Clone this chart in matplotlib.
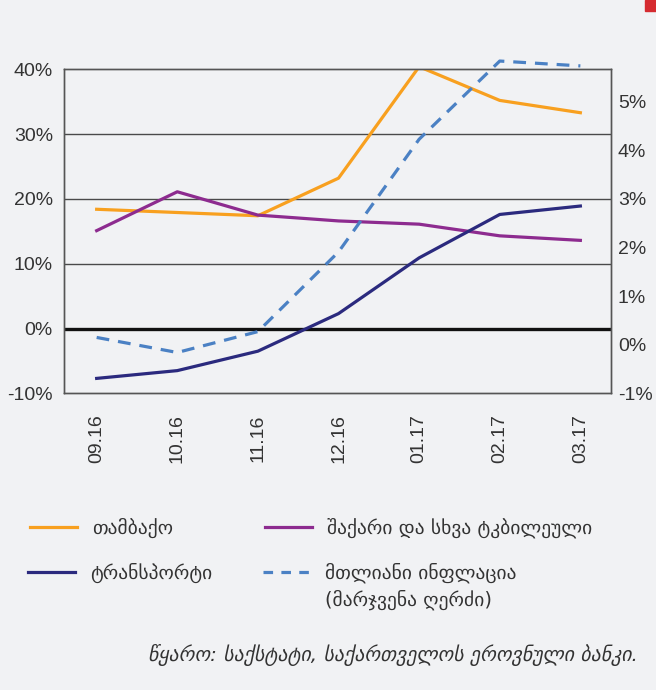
import numpy as np
import matplotlib.pyplot as plt
from matplotlib.lines import Line2D
from matplotlib.patches import Rectangle

months = ['09.16', '10.16', '11.16', '12.16', '01.17', '02.17', '03.17']
tobacco = [18.4, 17.9, 17.4, 23.2, 40.4, 35.2, 33.3]
sugar = [15.1, 21.1, 17.5, 16.6, 16.1, 14.3, 13.6]
transport = [-7.7, -6.5, -3.5, 2.3, 10.9, 17.6, 18.9]
inflation = [0.15, -0.16, 0.27, 1.91, 4.23, 5.84, 5.74]  # right axis

left_ticks = [-10, 0, 10, 20, 30, 40]
right_ticks = [-1, 0, 1, 2, 3, 4, 5]

names = ['თამბაქო', 'შაქარი და სხვა ტკბილეული', 'ტრანსპორტი',
         'მთლიანი ინფლაცია\n(მარჯვენა ღერძი)']
source = 'წყარო: საქსტატი, საქართველოს ეროვნული ბანკი.'

bg = '#f1f2f4'
c_tob = '#f8a01f'
c_sug = '#8d2b8f'
c_tra = '#2b2a7e'
c_inf = '#4b81c4'
txt = '#333333'
fam = ['Liberation Sans', 'DejaVu Sans']
geo = ['DejaVu Sans']

W, H = 656, 690
fig = plt.figure(figsize=(W / 100, H / 100), dpi=100, facecolor=bg)
ax = fig.add_axes([64 / W, 1 - 393.3 / H, 547 / W, 324 / H])
ax.set_facecolor(bg)
x = np.arange(len(months))
ax.set_xlim(-0.405, 6.38)
ax.set_ylim(-10, 40)

for v in left_ticks[1:-1]:
    if v != 0:
        ax.axhline(v, color='#4a4a4a', lw=1.0, zorder=1)
ax.axhline(0, color='#111111', lw=2.4, zorder=1)
for s in ax.spines.values():
    s.set_color('#555555')
    s.set_linewidth(1.0)

lw = 2.3
ax.plot(x, tobacco, color=c_tob, lw=lw, zorder=3)
ax.plot(x, sugar, color=c_sug, lw=lw, zorder=3)
ax.plot(x, transport, color=c_tra, lw=lw, zorder=3)

ax.set_yticks(left_ticks)
ax.set_yticklabels([f'{v}%' for v in left_ticks], family=fam, fontsize=14, color=txt)
ax.set_xticks(x)
ax.set_xticklabels(months, rotation=90, family=fam, fontsize=14, color=txt,
                   ha='center', va='top')
ax.tick_params(axis='both', length=0)
ax.tick_params(axis='y', pad=8)
ax.tick_params(axis='x', pad=15)

ax2 = ax.twinx()
ax2.set_ylim(-1, 5.67)
ax2.plot(x, inflation, color=c_inf, lw=lw, dashes=(4, 2.8), clip_on=False, zorder=3)
ax2.set_yticks(right_ticks)
ax2.set_yticklabels([f'{v}%' for v in right_ticks], family=fam, fontsize=14, color=txt)
ax2.tick_params(axis='y', length=0, pad=5)
for s in ax2.spines.values():
    s.set_color('#555555')
    s.set_linewidth(1.0)

# legend, drawn by hand in two columns
styles = [dict(color=c_tob), dict(color=c_sug), dict(color=c_tra),
          dict(color=c_inf, dashes=(3, 2.6))]
spots = [(30, 527), (265, 527), (28, 572), (263, 572)]
for name, st, (lx, ly) in zip(names, styles, spots):
    fig.add_artist(Line2D([lx / W, (lx + 47) / W], [1 - ly / H, 1 - ly / H],
                          lw=2.3, transform=fig.transFigure, **st))
    fig.text((lx + 62) / W, 1 - (ly - 9) / H, name, family=geo, fontsize=14,
             color=txt, va='top', ha='left', linespacing=1.35)

fig.text(638 / W, 1 - 655 / H, source, family=geo, style='italic',
         fontsize=14.3, color=txt, ha='right', va='center')

fig.add_artist(Rectangle((645 / W, 1 - 11 / H), 11 / W, 11 / H,
                         transform=fig.transFigure, color='#d52b30'))

fig.savefig('out.png', dpi=100, facecolor=bg)
